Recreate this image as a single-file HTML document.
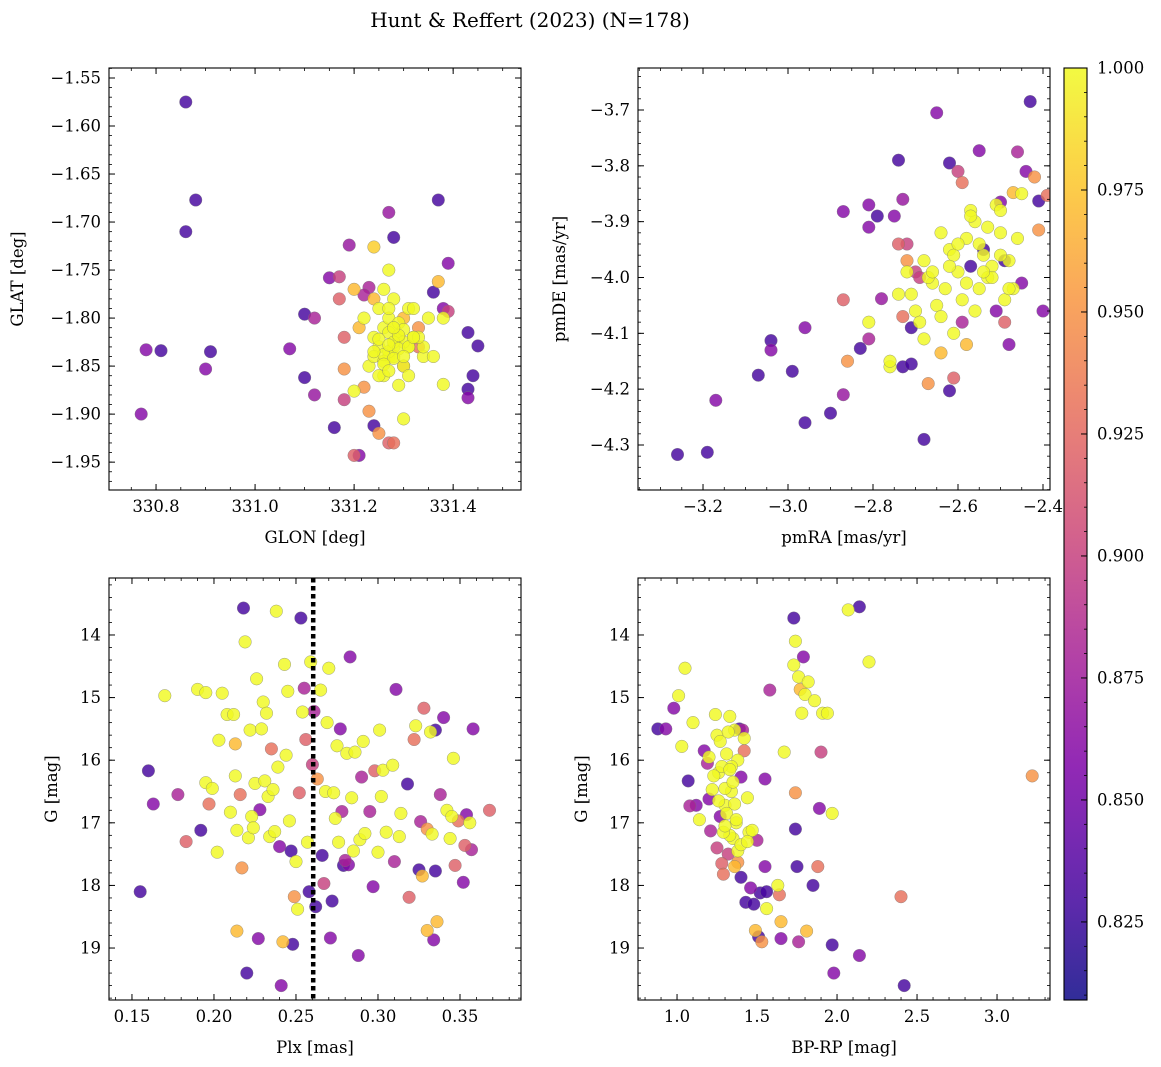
<!DOCTYPE html>
<html><head><meta charset="utf-8">
<style>
html,body{margin:0;padding:0;background:#fff;}
svg{display:block;font-family:"DejaVu Serif","Liberation Serif",serif;}
</style></head>
<body>
<svg id="chart" width="1161" height="1067" viewBox="0 0 1161 1067" xmlns="http://www.w3.org/2000/svg">
<defs id="topdefs"></defs>
<text x="530" y="27" font-size="20" text-anchor="middle">Hunt &amp; Reffert (2023) (N=178)</text>
</svg>
<script>
// ---------- Panel 1: GLON / GLAT ----------
const glon = [330.86,330.88,330.86,330.78,330.81,330.91,330.90,330.77,331.07,331.10,331.10,331.12,331.12,331.15,331.16,331.17,331.19,331.17,331.18,331.18,331.20,331.21,331.23,331.24,331.25,331.27,331.20,331.24,331.27,331.28,331.27,331.37,331.39,331.36,331.37,331.38,331.39,331.38,331.43,331.45,331.44,331.43,331.43,331.38,331.30,331.28,331.22,331.20,331.18,331.24,331.23,331.22,
331.22,331.24,331.25,331.26,331.27,331.28,331.29,331.30,331.31,331.32,331.33,331.34,331.35,331.23,331.25,331.27,331.28,331.30,331.31,331.33,331.26,331.28,331.29,331.27,331.26,331.30,331.32,331.24,331.34,331.21,331.29,331.31,331.25,331.36,331.28,331.33,331.27,331.30,331.26,331.29,
331.27,331.28,331.26,331.29,331.30,331.25,331.28,331.27,331.31,331.29,331.26,331.32,331.28,331.30,331.24,331.27];
const glat = [-1.575,-1.677,-1.71,-1.833,-1.834,-1.835,-1.853,-1.90,-1.832,-1.862,-1.796,-1.80,-1.88,-1.758,-1.914,-1.757,-1.724,-1.78,-1.82,-1.885,-1.943,-1.943,-1.897,-1.912,-1.92,-1.93,-1.77,-1.726,-1.69,-1.716,-1.75,-1.677,-1.743,-1.773,-1.762,-1.79,-1.793,-1.80,-1.815,-1.829,-1.86,-1.874,-1.883,-1.869,-1.905,-1.93,-1.872,-1.876,-1.853,-1.78,-1.768,-1.776,
-1.80,-1.82,-1.83,-1.81,-1.84,-1.83,-1.82,-1.80,-1.79,-1.82,-1.83,-1.84,-1.80,-1.85,-1.79,-1.80,-1.84,-1.85,-1.83,-1.81,-1.86,-1.78,-1.82,-1.79,-1.77,-1.85,-1.79,-1.84,-1.83,-1.81,-1.87,-1.86,-1.86,-1.84,-1.81,-1.82,-1.835,-1.825,-1.845,-1.805,
-1.815,-1.825,-1.838,-1.832,-1.812,-1.822,-1.842,-1.828,-1.83,-1.818,-1.848,-1.82,-1.81,-1.84,-1.835,-1.855];
const prob1 = [0.83,0.83,0.83,0.86,0.83,0.83,0.86,0.86,0.86,0.83,0.83,0.88,0.87,0.86,0.83,0.90,0.87,0.92,0.92,0.90,0.92,0.86,0.95,0.83,0.95,0.92,0.97,0.98,0.87,0.83,1.0,0.83,0.86,0.83,0.97,0.86,0.90,1.0,0.83,0.83,0.83,0.83,0.86,1.0,1.0,0.93,0.95,1.0,0.95,0.97,0.88,0.88,
1.0,1.0,1.0,1.0,1.0,1.0,1.0,0.97,1.0,1.0,0.93,1.0,1.0,1.0,1.0,1.0,1.0,1.0,1.0,0.95,1.0,1.0,1.0,1.0,1.0,0.93,1.0,1.0,1.0,0.97,1.0,1.0,1.0,1.0,1.0,1.0,1.0,1.0,1.0,1.0,
1.0,1.0,1.0,1.0,1.0,1.0,1.0,1.0,1.0,1.0,1.0,1.0,1.0,1.0,1.0,1.0];

// ---------- Panel 2: pmRA / pmDE ----------
const pmra = [-3.26,-3.19,-3.17,-3.07,-3.04,-3.04,-2.99,-2.96,-2.96,-2.90,-2.87,-2.86,-2.87,-2.83,-2.81,-2.81,-2.78,-2.76,-2.73,-2.71,-2.71,-2.68,-2.67,-2.64,-2.62,-2.61,-2.87,-2.81,-2.81,-2.79,-2.75,-2.74,-2.73,-2.74,-2.65,-2.62,-2.60,-2.59,-2.55,-2.46,-2.43,-2.44,-2.42,-2.41,-2.39,-2.41,-2.40,-2.45,-2.48,-2.49,-2.51,-2.57,-2.54,-2.49,-2.45,-2.47,-2.50,-2.70,-2.69,-2.72,-2.72,-2.73,-2.58,-2.59,
-2.74,-2.72,-2.70,-2.68,-2.66,-2.64,-2.62,-2.60,-2.58,-2.56,-2.54,-2.52,-2.50,-2.48,-2.46,-2.71,-2.67,-2.63,-2.61,-2.59,-2.57,-2.55,-2.53,-2.51,-2.49,-2.47,-2.69,-2.65,-2.62,-2.58,-2.56,-2.53,-2.50,-2.66,-2.60,-2.55,-2.52,-2.48,-2.64,-2.57,-2.54,-2.61,-2.76,-2.68,-2.50];
const pmde = [-4.317,-4.313,-4.22,-4.175,-4.113,-4.13,-4.168,-4.26,-4.09,-4.243,-4.21,-4.15,-4.04,-4.127,-4.08,-4.11,-4.038,-4.16,-4.16,-4.09,-4.155,-4.29,-4.19,-4.135,-4.203,-4.18,-3.882,-3.87,-3.91,-3.89,-3.89,-3.79,-3.86,-3.94,-3.705,-3.795,-3.81,-3.83,-3.773,-3.775,-3.685,-3.81,-3.82,-3.863,-3.853,-3.915,-4.06,-4.01,-4.12,-4.08,-4.06,-3.98,-3.95,-3.97,-3.85,-3.848,-3.865,-3.99,-4.00,-3.94,-3.97,-4.07,-4.12,-4.08,
-4.03,-3.99,-4.06,-3.97,-4.01,-3.92,-3.95,-3.99,-3.93,-3.90,-3.96,-3.98,-3.92,-3.97,-3.93,-4.03,-4.00,-4.02,-3.96,-4.04,-3.88,-3.94,-4.00,-3.87,-4.04,-4.02,-4.08,-4.05,-3.98,-4.01,-4.06,-3.91,-3.96,-3.99,-3.94,-4.02,-4.00,-4.02,-4.07,-3.89,-3.99,-4.10,-4.15,-4.11,-3.88];
const prob2 = [0.83,0.83,0.86,0.83,0.83,0.86,0.83,0.83,0.86,0.83,0.87,0.95,0.92,0.83,1.0,0.88,0.87,1.0,0.83,0.83,0.83,0.83,0.95,0.97,0.83,0.92,0.86,0.86,0.86,0.83,0.86,0.83,0.87,0.92,0.86,0.83,0.90,0.93,0.86,0.88,0.83,0.86,0.95,0.83,0.93,0.95,0.86,0.86,0.86,0.92,0.86,0.83,0.83,0.83,1.0,0.97,0.86,0.90,0.90,0.90,0.95,0.93,0.97,0.88,
1.0,1.0,1.0,1.0,1.0,1.0,1.0,1.0,1.0,1.0,1.0,1.0,1.0,1.0,1.0,1.0,1.0,1.0,1.0,1.0,1.0,1.0,1.0,1.0,1.0,1.0,1.0,1.0,1.0,1.0,1.0,1.0,1.0,1.0,1.0,1.0,1.0,1.0,1.0,1.0,1.0,1.0,1.0,1.0,1.0];

// ---------- Panel 3: Plx / G ----------
const plx = [0.155,0.16,0.163,0.17,0.178,0.183,0.19,0.192,0.195,0.197,0.199,0.202,0.203,0.205,0.208,0.21,0.212,0.213,0.214,0.213,0.214,0.216,0.217,0.218,0.219,0.22,0.221,0.222,0.223,0.224,0.225,0.226,0.227,0.228,0.229,0.23,0.231,0.232,0.233,0.234,0.235,0.236,0.237,0.238,0.239,0.24,0.241,0.242,0.243,0.244,0.245,0.246,0.247,0.248,0.249,0.25,0.251,0.252,0.253,0.254,0.255,0.256,0.257,0.258,0.259,0.26,0.261,0.262,0.263,0.265,0.266,0.267,0.268,0.269,0.27,0.271,0.272,0.273,0.274,0.275,0.276,0.277,0.278,0.279,0.28,0.281,0.282,0.283,0.284,0.285,0.286,0.288,0.289,0.29,0.291,0.292,0.295,0.297,0.298,0.3,0.301,0.302,0.303,0.305,0.309,0.31,0.311,0.313,0.314,0.318,0.319,0.322,0.323,0.325,0.326,0.327,0.328,0.33,0.33,0.332,0.333,0.334,0.335,0.336,0.335,0.338,0.34,0.342,0.344,0.345,0.346,0.347,0.349,0.352,0.353,0.354,0.356,0.357,0.358,0.368,0.195];
const gmag3 = [18.1,16.17,16.7,14.97,16.55,17.3,14.87,17.12,16.36,16.7,16.45,17.47,15.68,14.93,15.27,16.83,15.27,16.25,17.12,15.74,18.73,16.55,17.72,13.57,14.11,19.4,17.24,15.52,16.9,17.08,16.37,14.7,18.85,16.79,15.5,15.07,16.33,15.25,16.58,17.22,15.82,16.47,17.14,13.62,16.11,17.38,19.6,18.9,14.47,15.92,14.9,16.97,17.45,18.94,18.18,17.62,18.38,16.52,13.73,15.23,14.85,15.67,17.31,18.1,14.43,16.07,15.22,18.34,16.3,14.88,17.52,17.97,16.5,15.4,14.53,18.84,18.25,16.52,16.93,15.77,17.31,15.5,16.82,17.68,17.6,15.89,17.67,14.35,16.6,17.45,15.87,19.12,17.27,16.27,15.7,17.17,16.82,18.02,16.17,17.47,15.52,16.58,16.16,17.15,16.08,17.62,14.87,17.22,16.85,16.38,18.19,15.67,15.45,17.75,16.98,17.85,15.17,17.1,18.72,15.55,17.18,18.87,15.52,18.58,17.77,16.55,15.32,16.8,17.25,16.9,15.97,17.68,16.97,17.95,17.36,16.87,17.0,17.43,15.5,16.8,14.92];
const prob3 = [0.83,0.83,0.86,1.0,0.88,0.92,1.0,0.83,1.0,0.93,1.0,1.0,1.0,1.0,1.0,1.0,1.0,1.0,1.0,0.97,0.97,0.93,0.95,0.83,1.0,0.83,1.0,1.0,1.0,1.0,1.0,1.0,0.86,0.86,1.0,1.0,1.0,1.0,1.0,1.0,0.93,1.0,1.0,1.0,1.0,0.86,0.86,0.97,1.0,1.0,1.0,1.0,0.83,0.83,0.95,1.0,1.0,0.92,0.83,1.0,0.88,0.92,1.0,0.83,1.0,0.90,0.88,0.83,0.95,1.0,0.83,0.90,1.0,1.0,1.0,0.86,0.83,1.0,1.0,1.0,1.0,0.86,0.88,0.83,0.88,1.0,0.86,0.86,1.0,1.0,1.0,0.86,1.0,0.88,1.0,1.0,0.88,0.86,0.92,1.0,1.0,1.0,1.0,1.0,1.0,0.88,0.86,1.0,1.0,0.83,0.92,0.93,1.0,0.83,0.88,0.97,0.92,0.95,0.97,1.0,1.0,0.86,0.83,0.97,0.83,0.88,0.86,1.0,1.0,1.0,1.0,0.92,0.93,0.86,0.92,0.86,1.0,0.88,0.86,0.92,1.0];
const plxRef = [0.2605];

// ---------- Panel 4: BP-RP / G ----------
const bprp = [0.88,0.93,0.98,1.01,1.03,1.05,1.07,1.08,1.1,1.12,1.14,1.17,1.19,1.2,1.2,1.21,1.22,1.24,1.25,1.26,1.27,1.28,1.29,1.3,1.31,1.32,1.33,1.34,1.35,1.36,1.36,1.37,1.38,1.38,1.39,1.4,1.4,1.41,1.42,1.43,1.44,1.45,1.46,1.47,1.48,1.49,1.5,1.51,1.52,1.53,1.55,1.55,1.56,1.56,1.58,1.63,1.64,1.65,1.65,1.67,1.73,1.73,1.74,1.74,1.74,1.75,1.76,1.76,1.77,1.78,1.79,1.8,1.81,1.82,1.85,1.86,1.88,1.89,1.9,1.91,1.94,1.97,1.97,1.98,2.07,2.14,2.14,2.2,2.4,2.42,3.22,1.25,1.3,1.33,1.34,1.36,1.28,1.27,1.32,1.42,1.38,1.29,1.31,1.35,1.26,1.37,1.4,1.33,1.3,1.44,1.23];
const gmag4 = [15.5,15.5,15.17,14.97,15.78,14.53,16.33,16.73,15.4,16.72,16.95,15.85,16.05,15.95,16.62,17.13,16.47,15.27,15.6,16.2,16.9,17.65,17.82,16.72,15.9,17.5,15.3,16.5,17.25,15.52,17.7,17.0,16.0,17.63,15.5,17.87,16.27,15.52,15.85,18.27,16.6,17.15,18.04,17.12,18.3,18.72,17.28,18.82,18.12,18.9,16.3,17.7,18.37,18.1,14.88,18.0,18.15,18.58,18.85,15.87,13.73,14.48,14.1,16.52,17.1,17.7,14.67,18.9,14.87,15.25,14.35,14.95,18.73,14.75,18.0,15.05,17.7,16.77,15.87,15.25,15.25,16.85,18.95,19.4,13.6,13.55,19.12,14.43,18.18,19.6,16.25,17.4,16.45,17.2,16.1,16.7,16.1,15.7,15.55,15.65,17.45,17.15,16.85,16.35,16.65,16.95,17.35,16.15,17.05,17.3,16.25];
const prob4 = [0.83,0.86,0.86,1.0,1.0,1.0,0.83,0.88,1.0,0.86,1.0,0.86,0.88,1.0,0.86,0.88,1.0,1.0,1.0,1.0,0.86,0.92,0.93,1.0,1.0,0.90,1.0,1.0,1.0,1.0,0.97,1.0,1.0,0.95,0.83,0.83,0.86,0.88,0.93,0.83,1.0,1.0,0.86,1.0,0.83,0.97,0.88,0.83,0.83,0.95,0.86,0.86,1.0,0.83,0.88,1.0,0.93,0.97,0.86,1.0,0.83,1.0,1.0,0.95,0.83,0.83,1.0,0.88,0.97,1.0,0.86,1.0,0.97,1.0,0.83,1.0,0.93,0.86,0.90,1.0,1.0,1.0,0.83,0.86,1.0,0.83,0.86,1.0,0.93,0.83,0.95,0.90,1.0,1.0,1.0,1.0,1.0,1.0,1.0,1.0,1.0,1.0,1.0,1.0,1.0,1.0,1.0,1.0,1.0,1.0,1.0];

// ---------- Colorbar ----------
const cbTicks = [0.825,0.850,0.875,0.900,0.925,0.950,0.975,1.000];
const cbMin = 0.809, cbMax = 1.0;

const NS = "http://www.w3.org/2000/svg";
const svg = document.getElementById("chart");
const topdefs = document.getElementById("topdefs");
function mk(tag, attrs, parent){ const e=document.createElementNS(NS,tag); for(const k in attrs) e.setAttribute(k,attrs[k]); (parent||svg).appendChild(e); return e; }

const stops=[[0,[13,8,135]],[0.125,[75,3,161]],[0.25,[126,3,168]],[0.375,[168,34,150]],[0.5,[204,71,120]],[0.625,[230,108,92]],[0.75,[248,149,64]],[0.875,[253,196,39]],[1,[240,249,33]]];
function plasma(t){ t=Math.max(0,Math.min(1,t)); for(let i=1;i<stops.length;i++){ if(t<=stops[i][0]){ const a=stops[i-1],b=stops[i]; const f=(t-a[0])/(b[0]-a[0]); const c=a[1].map((v,j)=>Math.round(v+(b[1][j]-v)*f)); return `rgb(${c[0]},${c[1]},${c[2]})`; } } return "rgb(240,249,33)"; }
function cmap(p){ return plasma((p-cbMin)/(cbMax-cbMin)); }
function fmt(v,d){ const s=Math.abs(v).toFixed(d); return (v<-1e-9?"\u2212":"")+s; }

function panel(name, box, xr, yr, xMaj, xMin, xDec, yMaj, yMin, yDec, xs, ys, ps, xlabel, ylabel, ylabX){
  const g=mk("g",{});
  
  
  const [L,T,R,B]=box;
  const sx=v=>L+(v-xr[0])/(xr[1]-xr[0])*(R-L);
  const sy=v=>T+(v-yr[0])/(yr[1]-yr[0])*(B-T);
  const clipId=name+"-clip";
  const cp=mk("clipPath",{id:clipId},topdefs); mk("rect",{x:L,y:T,width:R-L,height:B-T},cp);
  const pg=mk("g",{"clip-path":`url(#${clipId})`},g);
  const idx=ps.map((p,i)=>i).sort((a,b)=>ps[a]-ps[b]);
  idx.forEach(i=>{
    const c=mk("circle",{cx:sx(xs[i]).toFixed(1),cy:sy(ys[i]).toFixed(1),r:6.3,fill:cmap(ps[i]),"fill-opacity":0.82,stroke:"#777","stroke-width":0.5,"stroke-opacity":0.7},pg);
    
    
  });
  const ticks=(lo,hi,step)=>{const a=[];const s=Math.ceil(Math.min(lo,hi)/step-1e-6),e=Math.floor(Math.max(lo,hi)/step+1e-6);for(let k=s;k<=e;k++)a.push(+(k*step).toFixed(6));return a;};
  ticks(xr[0],xr[1],xMin).forEach(v=>{const x=sx(v);mk("line",{x1:x,x2:x,y1:B,y2:B-3,stroke:"#000","stroke-width":0.8},g);mk("line",{x1:x,x2:x,y1:T,y2:T+3,stroke:"#000","stroke-width":0.8},g);});
  ticks(yr[0],yr[1],yMin).forEach(v=>{const y=sy(v);mk("line",{x1:L,x2:L+3,y1:y,y2:y,stroke:"#000","stroke-width":0.8},g);mk("line",{x1:R,x2:R-3,y1:y,y2:y,stroke:"#000","stroke-width":0.8},g);});
  ticks(xr[0],xr[1],xMaj).forEach(v=>{const x=sx(v);mk("line",{x1:x,x2:x,y1:B,y2:B-6,stroke:"#000","stroke-width":1},g);mk("line",{x1:x,x2:x,y1:T,y2:T+6,stroke:"#000","stroke-width":1},g);
    const t=mk("text",{x:x,y:B+22,"font-size":16.5,"text-anchor":"middle"},g);t.textContent=fmt(v,xDec);
    
    });
  ticks(yr[0],yr[1],yMaj).forEach(v=>{const y=sy(v);mk("line",{x1:L,x2:L+6,y1:y,y2:y,stroke:"#000","stroke-width":1},g);mk("line",{x1:R,x2:R-6,y1:y,y2:y,stroke:"#000","stroke-width":1},g);
    const t=mk("text",{x:L-8,y:y+5.5,"font-size":16.5,"text-anchor":"end"},g);t.textContent=fmt(v,yDec);
    
    });
  mk("rect",{x:L,y:T,width:R-L,height:B-T,fill:"none",stroke:"#000","stroke-width":1.1},g);
  const xl=mk("text",{x:(L+R)/2,y:B+53,"font-size":16.5,"text-anchor":"middle"},g);xl.textContent=xlabel;
  
  
  const yl=mk("text",{x:ylabX,y:(T+B)/2,"font-size":16.5,"text-anchor":"middle",transform:`rotate(-90 ${ylabX} ${(T+B)/2})`},g);yl.textContent=ylabel;
  
  
  return {sx,sy,g,T,B};
}

panel("panel-glon-glat",[109,68,521,490],[330.705,331.537],[-1.5396,-1.979],0.2,0.05,1,0.05,0.01,2,glon,glat,prob1,"GLON [deg]","GLAT [deg]",23);
panel("panel-pm",[638,68,1050,490],[-3.353,-2.3835],[-3.6248,-4.3806],0.2,0.05,1,0.1,0.02,1,pmra,pmde,prob2,"pmRA [mas/yr]","pmDE [mas/yr]",565);
const p3=panel("panel-plx-g",[109,578,521,1000],[0.136,0.3872],[13.09,19.83],0.05,0.01,2,1,0.2,0,plx,gmag3,prob3,"Plx [mas]","G [mag]",57);
plxRef.forEach(v=>{const x=p3.sx(v);const l=mk("line",{x1:x,x2:x,y1:p3.T,y2:p3.B,stroke:"#000","stroke-width":4.5,"stroke-dasharray":"4.5,3.5"},p3.g);
  
  });
panel("panel-cmd",[638,578,1050,1000],[0.756,3.331],[13.09,19.83],0.5,0.1,1,1,0.2,0,bprp,gmag4,prob4,"BP-RP [mag]","G [mag]",587);

// colorbar
const lg=mk("linearGradient",{id:"cbgrad",x1:"0",y1:"1",x2:"0",y2:"0"},topdefs);
for(let i=0;i<=20;i++){mk("stop",{offset:i/20,"stop-color":plasma(i/20),"stop-opacity":0.85},lg);}
const cg=mk("g",{});


const cL=1064,cR=1087,cT=68,cB=1000;
mk("rect",{x:"1064",y:"68",width:"23",height:"932",fill:"url(#cbgrad)"},cg);
const cy=v=>cB-(v-cbMin)/(cbMax-cbMin)*(cB-cT);
for(let k=Math.ceil(cbMin/0.005);k<=Math.floor(cbMax/0.005+1e-6);k++){const y=cy(k*0.005);mk("line",{x1:cR,x2:cR-3,y1:y,y2:y,stroke:"#000","stroke-width":0.8},cg);}
cbTicks.forEach(v=>{const y=cy(v);mk("line",{x1:cR,x2:cR-6,y1:y,y2:y,stroke:"#000","stroke-width":1},cg);
  const t=mk("text",{x:cR+10,y:y+5.5,"font-size":16.5},cg);t.textContent=v.toFixed(3);
  
  });
mk("rect",{x:"1064",y:"68",width:"23",height:"932",fill:"none",stroke:"#000","stroke-width":1.1},cg);
</script>
</body></html>
